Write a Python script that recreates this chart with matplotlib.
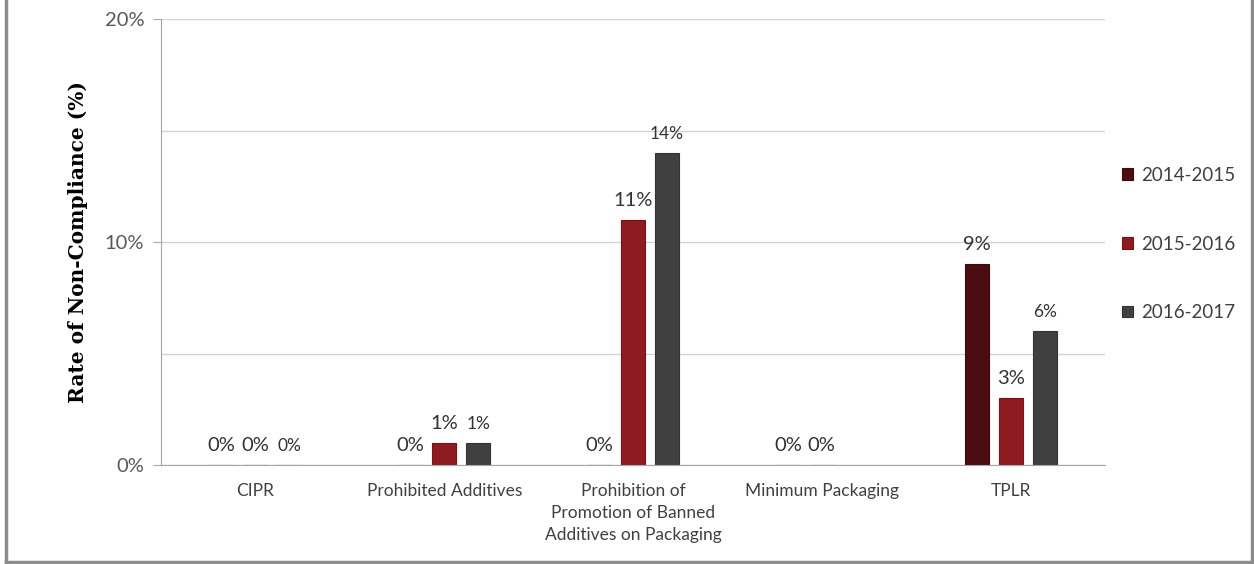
import numpy as np
import matplotlib
matplotlib.use("Agg")
import matplotlib.pyplot as plt
from matplotlib.lines import Line2D

# 数据
categories = ["CIPR", "Prohibited Additives",
              "Prohibition of\nPromotion of Banned\nAdditives on Packaging",
              "Minimum Packaging", "TPLR"]
series_names = ["2014-2015", "2015-2016", "2016-2017"]
v_2014 = [0, 0, 0, 0, 9]
v_2015 = [0, 1, 11, 0, 3]
v_2016 = [0, 1, 14, np.nan, 6]
colors = ["#4b0d12", "#8e1b1f", "#404040"]
edge_colors = ["#3a0a0e", "#7a1015", "#333333"]

plt.rcParams['font.family'] = ['Lato', 'DejaVu Sans']

fig = plt.figure(figsize=(12.54, 5.64), dpi=100)
ax = fig.add_axes([161 / 1254, 1 - 465 / 564, (1105 - 161) / 1254, (465 - 19) / 564])

x = np.arange(len(categories))
width = 0.127
offset = 0.18
label_sizes = [14.5, 14.5, 12.5]
for i, (vals, name) in enumerate(zip([v_2014, v_2015, v_2016], series_names)):
    pos = x + (i - 1) * offset
    bars = ax.bar(pos, vals, width, color=colors[i], edgecolor=edge_colors[i],
                  linewidth=0.8, label=name, zorder=3)
    for xp, v in zip(pos, vals):
        if np.isnan(v):
            continue
        ax.annotate(f"{v:.0f}%", (xp, v), xytext=(0, 8), textcoords="offset points",
                    ha="center", va="bottom", fontsize=label_sizes[i], color="#333333")

ax.set_xlim(-0.5, len(categories) - 0.5)
ax.set_ylim(0, 20)
ax.set_yticks([0, 10, 20])
ax.set_yticks([5, 15], minor=True)
ax.set_yticklabels(["0%", "10%", "20%"])
ax.yaxis.grid(True, which="both", color="#d4d4d4", linewidth=1, zorder=0)
ax.set_xticks(x)
ax.set_xticklabels(categories, fontsize=12.5, color="#404040", linespacing=1.45)
ax.tick_params(axis="x", length=0, pad=13)
ax.tick_params(axis="y", which="major", length=6, color="#a6a6a6", labelsize=14.5,
               labelcolor="#595959", pad=6)
ax.tick_params(axis="y", which="minor", length=0)

for s in ["top", "right"]:
    ax.spines[s].set_visible(False)
ax.spines["left"].set_color("#a6a6a6")
ax.spines["bottom"].set_color("#a6a6a6")
ax.spines["bottom"].set_zorder(4)

ax.set_ylabel("Rate of Non-Compliance (%)", family="DejaVu Serif", fontweight="bold",
              fontsize=14.5, color="black", labelpad=12)

ax.legend(loc="center left", bbox_to_anchor=(1105 / 1254, 1 - 244 / 564),
          bbox_transform=fig.transFigure, frameon=False, fontsize=13.5,
          handlelength=0.6, handleheight=0.6, handletextpad=0.45, labelspacing=2.75,
          labelcolor="#404040")

# 外框
border = "#8c8c8c"
fig.add_artist(Line2D([6 / 1254, 6 / 1254], [2 / 564, 1], color=border, lw=2.5))
fig.add_artist(Line2D([1252 / 1254, 1252 / 1254], [2 / 564, 1], color=border, lw=2.5))
fig.add_artist(Line2D([6 / 1254, 1252 / 1254], [2 / 564, 2 / 564], color=border, lw=2.5))

fig.savefig("out.png", dpi=100)
